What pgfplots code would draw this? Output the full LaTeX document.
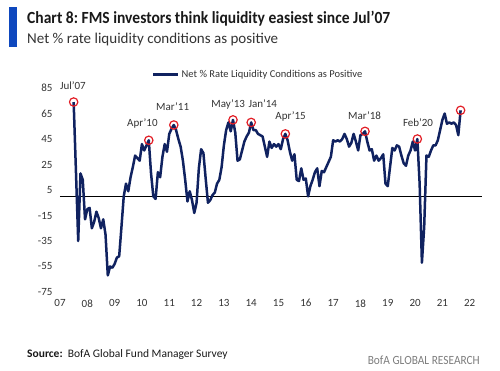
\documentclass[border=0pt]{standalone}
\usepackage{fontspec}
\setmainfont{Carlito}
\usepackage{graphicx}
\usepackage{pgfplots}
\pgfplotsset{compat=1.18}
\definecolor{navy}{RGB}{16,34,96}
\definecolor{barblue}{RGB}{14,72,190}
\definecolor{circred}{RGB}{226,30,38}
\definecolor{txt}{RGB}{51,51,51}
\definecolor{gr}{RGB}{125,125,125}

\pgfplotstableread{
m v
0 74
1 20
2 -35
3 18
4 13
5 -18
6 -10
7 -9
8 -25
9 -20
10 -12
11 -17
12 -25
13 -18
14 -30
15 -62
16 -55
17 -56
18 -53
19 -48
20 -47
21 -24
22 0
23 10
24 4
25 15
26 23
27 32
28 30
29 28
30 41
31 36
32 40
33 44
34 18
35 0
36 -2
37 19
38 15
39 31
40 41
41 35
42 49
43 53
44 56
45 52
46 45
47 39
48 28
49 13
50 -4
51 4
52 -3
53 -13
54 -5
55 22
56 37
57 34
58 14
59 -5
60 -3
61 1
62 3
63 10
64 13
65 23
66 40
67 52
68 58
69 51
70 60
71 50
72 28
73 29
74 36
75 43
76 47
77 50
78 58
79 52
80 52
81 49
82 48
83 47
84 39
85 31
86 43
87 38
88 41
89 39
90 41
91 37
92 45
93 49
94 44
95 35
96 28
97 33
98 13
99 12
100 22
101 13
102 14
103 0
104 8
105 13
106 19
107 22
108 8
109 20
110 19
111 23
112 27
113 31
114 44
115 43
116 44
117 43
118 45
119 49
120 45
121 39
122 42
123 49
124 43
125 36
126 48
127 49
128 51
129 43
130 36
131 37
132 28
133 32
134 28
135 30
136 33
137 10
138 8
139 23
140 38
141 36
142 40
143 39
144 32
145 26
146 24
147 32
148 36
149 43
150 36
151 45
152 10
153 -52
154 -24
155 32
156 31
157 36
158 40
159 40
160 44
161 52
162 60
163 65
164 57
165 58
166 57
167 58
168 56
169 48
170 67.5
}\liqdata

\begin{document}
\begin{tikzpicture}
\path[use as bounding box] (0bp,0bp) rectangle (500bp,-371bp);
\fill[barblue] (9bp,-7bp) rectangle (17bp,-47bp);
\node[anchor=base west, inner sep=0, text=black!90] at (27bp,-24bp)
  {\resizebox{363bp}{\height}{\fontsize{17bp}{17bp}\selectfont\bfseries Chart 8:\ FMS investors think liquidity easiest since Jul’07}};
\node[anchor=base west, inner sep=0, text=txt] at (27bp,-43bp)
  {\resizebox{251bp}{\height}{\fontsize{15bp}{15bp}\selectfont Net \% rate liquidity conditions as positive}};

\begin{axis}[
  at={(60bp,-292bp)}, anchor=south west,
  scale only axis, width=422bp, height=204bp,
  xmin=-6, xmax=179.4, ymin=-75, ymax=85,
  axis line style={draw=none},
  major tick length=0pt,
  xtick={-6,6,...,174},
  xticklabels={07,08,09,10,11,12,13,14,15,16,17,18,19,20,21,22},
  ytick={-75,-55,-35,-15,5,25,45,65,85},
  yticklabels={-75,-55,-35,-15,5,25,45,65,85},
  tick label style={font=\fontsize{11bp}{11bp}\selectfont, text=txt},
  yticklabel style={anchor=east, xshift=-4bp},
  xticklabel style={anchor=north, yshift=-4bp},
  clip=false,
  legend style={at={(axis description cs:0.218,1.065)}, anchor=west,
    draw=none, fill=none, inner sep=0pt,
    font=\fontsize{10.5bp}{10.5bp}\selectfont, text=txt},
  legend image code/.code={\draw[#1] (0bp,0bp) -- (25bp,0bp);},
]
\addplot[black, line width=1bp, forget plot] coordinates {(-6,0) (179.4,0)};
\addplot[navy, line width=2.5bp, line join=round] table[x=m,y=v] {\liqdata};
\addlegendentry{Net \% Rate Liquidity Conditions as Positive}
\addplot[only marks, mark=o, mark size=4.2bp, circred, mark options={line width=1.2bp}, forget plot]
  coordinates {(0,74) (33,44) (44,56) (70,60) (78,58) (93,49) (128,51) (151,45) (170,67.5)};
\begin{scope}[every node/.style={font=\fontsize{11bp}{11bp}\selectfont, text=txt}]
\node at (axis cs:-0.35,87.1) {Jul’07};
\node at (axis cs:30.2,57.2) {Apr’10};
\node at (axis cs:43.5,70.7) {Mar’11};
\node at (axis cs:67.9,72.3) {May’13};
\node at (axis cs:83.1,73) {Jan’14};
\node at (axis cs:95.3,62.3) {Apr’15};
\node at (axis cs:127.8,63.1) {Mar’18};
\node at (axis cs:151.3,58.2) {Feb’20};
\end{scope}
\end{axis}

\node[anchor=base west, inner sep=0, text=black!90] at (27bp,-357bp)
  {\fontsize{11.5bp}{12bp}\selectfont\textbf{Source:}\ \ BofA Global Fund Manager Survey};
\node[anchor=base east, inner sep=0, text=gr] at (480bp,-364bp)
  {\resizebox{112bp}{\height}{\fontsize{12.5bp}{12.5bp}\selectfont BofA GLOBAL RESEARCH}};
\end{tikzpicture}
\end{document}
